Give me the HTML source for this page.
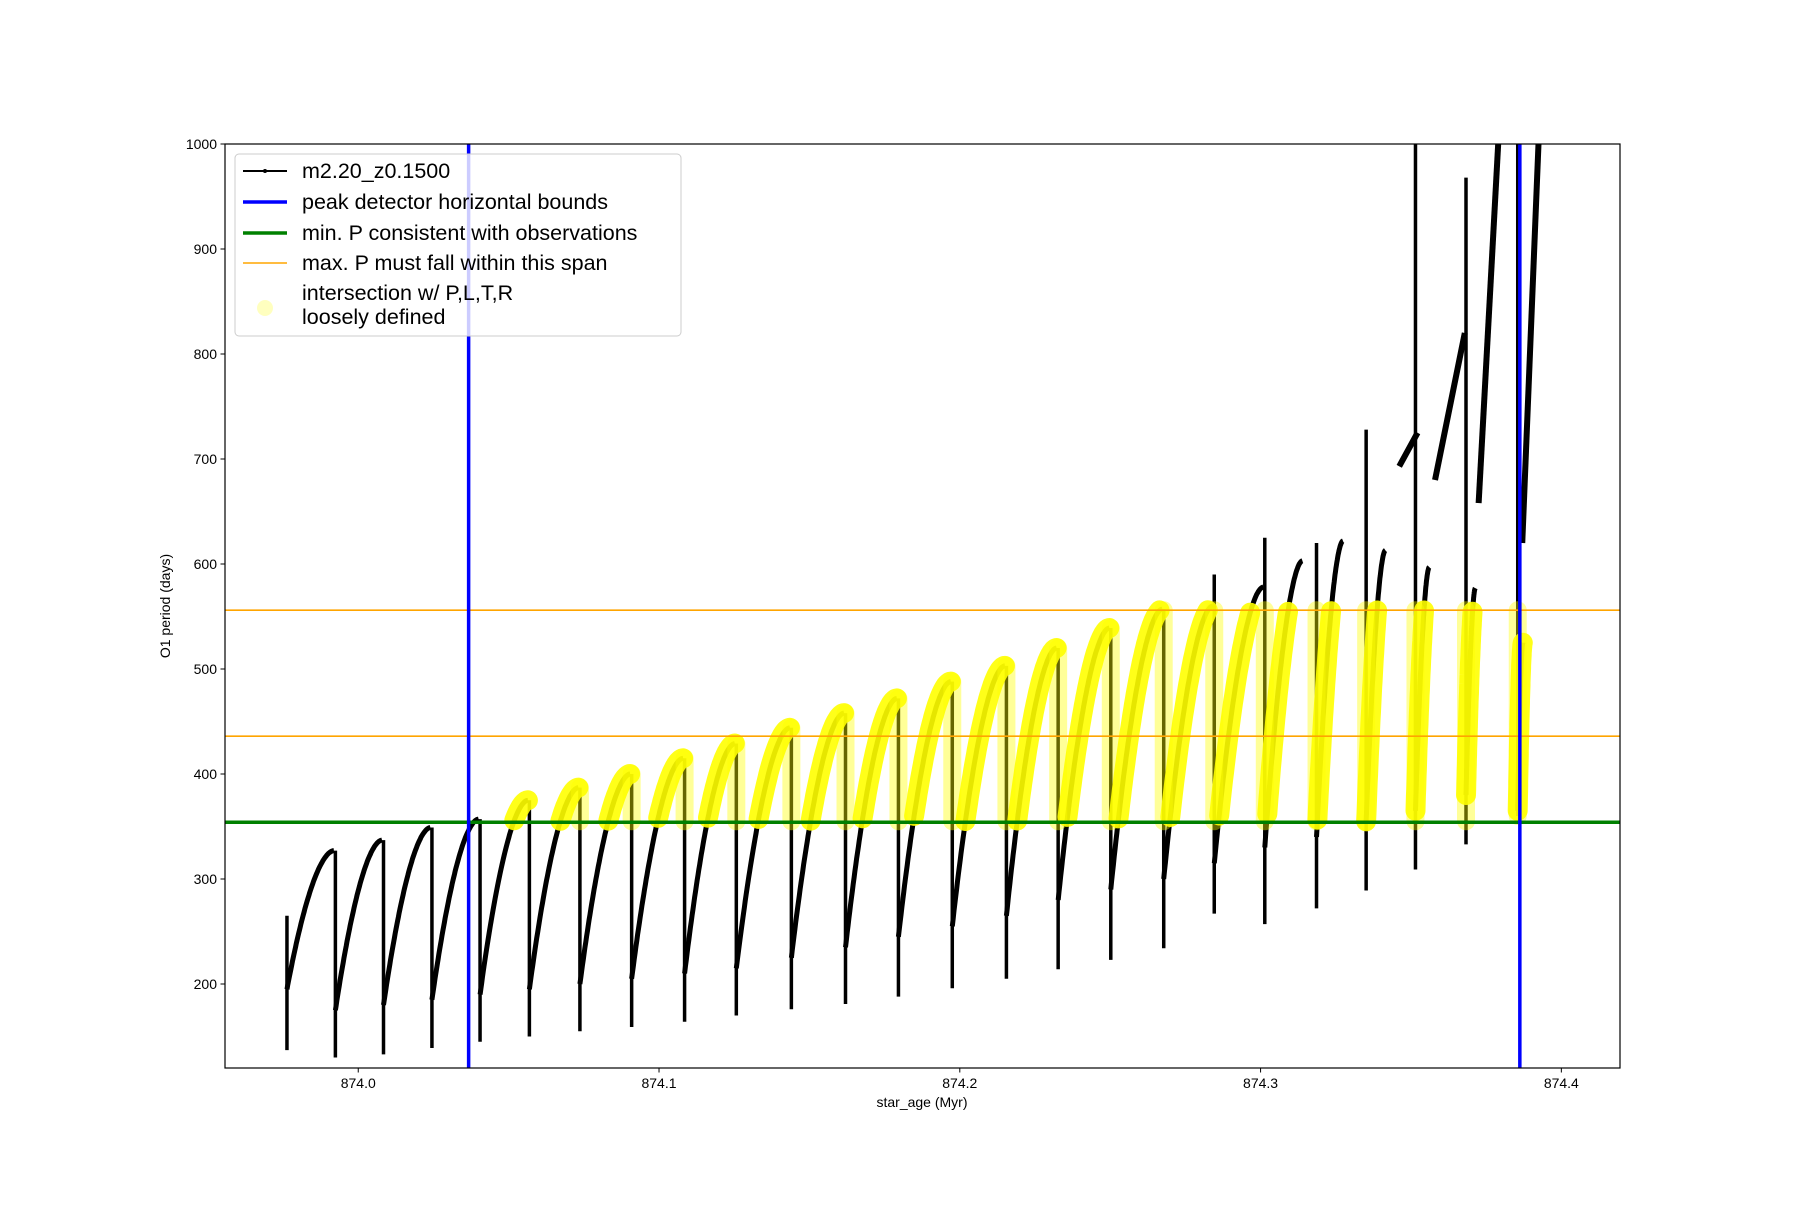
<!DOCTYPE html>
<html><head><meta charset="utf-8"><style>
body{margin:0;background:#fff;}
svg text{font-family:"Liberation Sans","DejaVu Sans",sans-serif;}
</style></head><body>
<svg id="chart" width="1800" height="1200" xmlns="http://www.w3.org/2000/svg">
<rect width="1800" height="1200" fill="#fff"/>
<g id="plot"></g>
<rect x="225" y="144" width="1395" height="924" fill="none" stroke="#000" stroke-width="1.2"/>
<g id="ticks"></g>
<text x="922" y="1107" font-size="14" text-anchor="middle">star_age (Myr)</text>
<text x="0" y="0" font-size="14" text-anchor="middle" transform="translate(170,606) rotate(-90)">O1 period (days)</text>
<g>
<rect x="235" y="154" width="446" height="182" rx="4" fill="#fff" fill-opacity="0.8" stroke="#ccc"/>
<g><line x1="243" y1="171" x2="287" y2="171" stroke="#000" stroke-width="2"/><circle cx="265" cy="171" r="2" fill="#000"/><text x="302" y="178" font-size="21.5">m2.20_z0.1500</text></g>
<g><line x1="243" y1="202" x2="287" y2="202" stroke="#0000ff" stroke-width="3.5"/><text x="302" y="209" font-size="21.5">peak detector horizontal bounds</text></g>
<g><line x1="243" y1="233" x2="287" y2="233" stroke="#008000" stroke-width="3.5"/><text x="302" y="240" font-size="21.5">min. P consistent with observations</text></g>
<g><line x1="243" y1="263" x2="287" y2="263" stroke="#ffa500" stroke-width="1.5"/><text x="302" y="270" font-size="21.5">max. P must fall within this span</text></g>
<g><circle cx="265" cy="308" r="8" fill="#ffff00" opacity="0.25"/><text x="302" y="300" font-size="21.5">intersection w/ P,L,T,R</text><text x="302" y="324" font-size="21.5">loosely defined</text></g>
</g>
</svg>
<script>
const xTicks=[874.0,874.1,874.2,874.3,874.4];
const yTicks=[200,300,400,500,600,700,800,900,1000];
const cycleStart=[873.9763,873.9924,874.0084,874.0245,874.0405,874.0569,874.0737,874.0909,874.1085,874.1257,874.1440,874.1620,874.1796,874.1975,874.2155,874.2327,874.2502,874.2678,874.2846,874.3014,874.3186,874.3351,874.3515,874.3683,874.3855];
const cycleEnd=[873.9919,874.0079,874.0240,874.0400,874.0564,874.0732,874.0904,874.1080,874.1252,874.1435,874.1615,874.1791,874.1970,874.2150,874.2322,874.2497,874.2673,874.2841,874.3009,874.3139,874.3274,874.3415,874.3561,874.3714,874.3872];
const cycleMin=[137,130,133,139,145,150,155,159,164,170,176,181,188,196,205,214,223,234,267,257,272,289,309,333,360];
const cycleBase=[195,175,180,185,190,195,200,205,210,215,225,235,245,255,265,280,290,300,315,330,340,355,365,380,365];
const cyclePeak=[327,337,349,357,375,387,400,415,429,444,458,472,488,503,520,539,557,560,578,603,622,613,597,577,525];
const spikeTop=[265,327,337,349,357,375,387,400,415,429,444,458,472,488,503,520,539,557,590,625,620,728,1000,968,1000];
const upperStart=[874.3461,874.3580,874.3725,874.3870];
const upperEnd=[874.3522,874.3679,874.3790,874.3924];
const upperV0=[693,680,658,620];
const upperV1=[725,820,1000,1000];
const boundsX=[874.0367,874.3862];
const minP=[354];
const maxPSpan=[436,556];
const xMin=873.9557,xMax=874.4195,yMin=120,yMax=1000;
const L=225,R=1620,T=144,B=1068;
const sx=a=>L+(a-xMin)/(xMax-xMin)*(R-L);
const sy=v=>T+(yMax-v)/(yMax-yMin)*(B-T);
const NS="http://www.w3.org/2000/svg";
const plot=document.getElementById('plot');
function mk(tag,attrs,parent){const e=document.createElementNS(NS,tag);for(const k in attrs)e.setAttribute(k,attrs[k]);(parent||plot).appendChild(e);return e;}
const clip=mk('clipPath',{id:'cp'});mk('rect',{x:L,y:T,width:R-L,height:B-T},clip);
const g=mk('g',{'clip-path':'url(#cp)'});
const gy=mk('g',{'clip-path':'url(#cp)'});
function curveVal(i,f){return cycleBase[i]+(cyclePeak[i]-cycleBase[i])*(1-Math.pow(1-f,1.8));}
const lo=minP[0]+1,hi=maxPSpan[1];
for(let i=0;i<cycleStart.length;i++){
  const x0=cycleStart[i];
  const sp=mk('line',{x1:sx(x0),y1:sy(spikeTop[i]),x2:sx(x0),y2:sy(cycleMin[i]),stroke:'#000','stroke-width':3.5},g);
  
  
  const pts=[];const N=60;
  for(let k=0;k<=N;k++){const f=k/N;pts.push([x0+(cycleEnd[i]-x0)*f,curveVal(i,f)]);}
  const pl=mk('polyline',{points:pts.map(p=>sx(p[0]).toFixed(1)+','+sy(p[1]).toFixed(1)).join(' '),fill:'none',stroke:'#000','stroke-width':5},g);
  
  
  if(x0>=boundsX[0]-0.005){
    let seg=[];
    const flush=()=>{if(seg.length>0){const y=mk('polyline',{points:seg.join(' '),fill:'none',stroke:'#ffff00','stroke-width':20,'stroke-linecap':'round','stroke-linejoin':'round',opacity:0.9},gy);
      
      }seg=[];};
    for(const p of pts){if(p[1]>=lo&&p[1]<=hi&&p[0]>=boundsX[0]-0.001)seg.push(sx(p[0]).toFixed(1)+','+sy(p[1]).toFixed(1));else flush();}
    flush();
    if(x0>boundsX[0]+0.03){
      const a=Math.max(lo,cycleMin[i]),b=Math.min(hi,spikeTop[i]);
      if(b>a){const ys=mk('line',{x1:sx(x0),y1:sy(b),x2:sx(x0),y2:sy(a),stroke:'#ffff00','stroke-width':18,'stroke-linecap':'round',opacity:0.4},gy);
        
        }
    }
  }
}
for(let i=0;i<upperStart.length;i++){
  const u=mk('line',{x1:sx(upperStart[i]),y1:sy(upperV0[i]),x2:sx(upperEnd[i]),y2:sy(upperV1[i]),stroke:'#000','stroke-width':6},g);
  
  
}
const gl=mk('g',{'clip-path':'url(#cp)'});
for(const v of maxPSpan){const o=mk('line',{x1:L,x2:R,y1:sy(v),y2:sy(v),stroke:'#ffa500','stroke-width':1.6},gl);
  
  }
const gr=mk('line',{x1:L,x2:R,y1:sy(minP[0]),y2:sy(minP[0]),stroke:'#008000','stroke-width':3.5},gl);


for(const b of boundsX){const bl=mk('line',{x1:sx(b),x2:sx(b),y1:T,y2:B,stroke:'#0000ff','stroke-width':3.5},gl);
  
  }
const tk=document.getElementById('ticks');
for(const t of xTicks){const x=sx(t);mk('line',{x1:x,x2:x,y1:B,y2:B+4.5,stroke:'#000'},tk);
  const tx=mk('text',{x:x,y:B+20,'font-size':14,'text-anchor':'middle'},tk);tx.textContent=t.toFixed(1);
  
  }
for(const t of yTicks){const y=sy(t);mk('line',{x1:L-4.5,x2:L,y1:y,y2:y,stroke:'#000'},tk);
  const tx=mk('text',{x:L-8,y:y+5,'font-size':14,'text-anchor':'end'},tk);tx.textContent=t;
  
  }
</script>
</body></html>
